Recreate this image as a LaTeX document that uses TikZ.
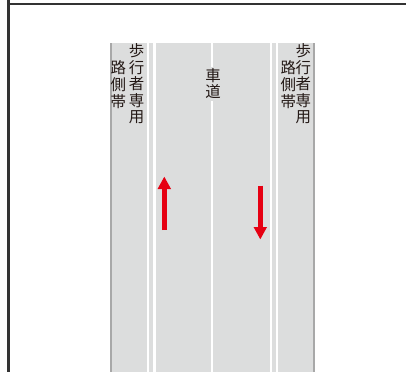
\documentclass[tikz,border=0pt]{standalone}
\usepackage{fontspec}
\newfontfamily\jp{Noto Sans CJK JP}
\usetikzlibrary{arrows.meta}
\definecolor{roadgray}{HTML}{DCDDDD}
\definecolor{edgegray}{HTML}{A8A8A8}
\definecolor{framegray}{HTML}{333333}
\definecolor{arrowred}{HTML}{E60012}
\definecolor{inkcol}{HTML}{231815}
\begin{document}
\begin{tikzpicture}[x=1bp,y=-1bp,
  jchar/.style={font=\jp\fontsize{15.5}{16}\selectfont, text=inkcol, inner sep=0pt, anchor=center},
  roadchar/.style={jchar, fill=roadgray, minimum height=17.5bp, minimum width=15bp},
  framestyle/.style={draw=framegray, line width=2bp},
  dirarrow/.style={draw=arrowred, line width=4.8bp, -{Triangle[length=12.5bp,width=12.5bp]}}]
\useasboundingbox (0,0) rectangle (406,372);
% frame
\coordinate (fTop) at (8.5,0);
\coordinate (fBot) at (8.5,372);
\coordinate (fCorner) at (7.5,3.5);
\coordinate (fRight) at (406,3.5);
\draw[framestyle] (fTop) -- (fBot);
\draw[framestyle] (fCorner) -- (fRight);
% road surface
\fill[roadgray] (110,43) rectangle (315,372);
\fill[edgegray] (110,43) rectangle (112,372);
\fill[edgegray] (313,43) rectangle (315,372);
\foreach \a/\b in {147/149.2,153.3/155.7,210.8/212.9,270/272.3,276/278.3}
  \fill[white] (\a,43) rectangle (\b,372);
% left side strip text
\foreach \c [count=\i from 0] in {歩,行,者,専,用}
  \node[jchar] (la\i) at (136.7,{50.8+16.6*\i}) {\c};
\foreach \c [count=\i from 0] in {路,側,帯}
  \node[jchar] (lb\i) at (118.3,{68+16.6*\i}) {\c};
% right side strip text
\foreach \c [count=\i from 0] in {歩,行,者,専,用}
  \node[jchar] (ra\i) at (303.3,{50.8+16.6*\i}) {\c};
\foreach \c [count=\i from 0] in {路,側,帯}
  \node[jchar] (rb\i) at (288.3,{68+16.6*\i}) {\c};
% carriageway text
\node[roadchar] (car1) at (213,75.5) {車};
\node[roadchar] (car2) at (213,92) {道};
% direction arrows
\coordinate (upS) at (164.3,230);
\coordinate (upE) at (164.3,176.5);
\coordinate (dnS) at (260.3,185.7);
\coordinate (dnE) at (260.3,239.5);
\draw[dirarrow] (upS) -- (upE);
\draw[dirarrow] (dnS) -- (dnE);
\end{tikzpicture}
\end{document}
